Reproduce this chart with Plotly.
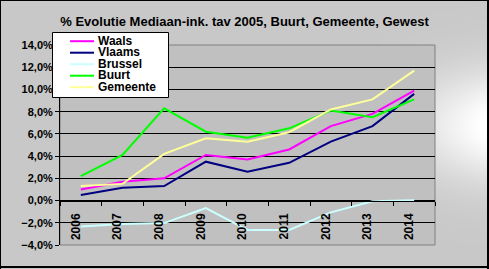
import zlib, struct, base64, math
import plotly.graph_objects as go

years = ["2006", "2007", "2008", "2009", "2010", "2011", "2012", "2013", "2014"]
waals = [1.0, 1.7, 2.0, 4.1, 3.7, 4.6, 6.7, 7.8, 9.9]
vlaams = [0.5, 1.15, 1.3, 3.5, 2.6, 3.4, 5.3, 6.7, 9.6]
brussel = [-2.33, -2.1, -2.03, -0.67, -2.64, -2.64, -1.06, -0.06, 0.03]
buurt = [2.2, 4.1, 8.3, 6.2, 5.65, 6.5, 8.1, 7.5, 9.1]
gemeente = [1.3, 1.5, 4.2, 5.6, 5.3, 6.15, 8.2, 9.1, 11.7]

names = ["Waals", "Vlaams", "Brussel", "Buurt", "Gemeente"]
values = [waals, vlaams, brussel, buurt, gemeente]
colors = ["#FF00FF", "#000080", "#CCFFFF", "#00FF00", "#FFFF99"]

W, H = 489, 269
L, R, T, B = 60, 54, 45, 24
PW, PH = W - L - R, H - T - B


def px(x):
    return (x - L) / PW


def py(y):
    return (H - B - y) / PH


def bg_pixel(x, y):
    if L <= x < W - R and T <= y < H - B:
        return 192
    if x == 0 or y == 0 or x >= W - 2 or y in (H - 3, H - 2):
        return 0
    base = 200
    fx = min(max((x - 370) / 110.0, 0.0), 1.0)
    fy = math.exp(-((y - 125) / 55.0) ** 2)
    return int(round(base + (255 - base) * fx * fy))


def make_png(w, h):
    raw = b"".join(b"\x00" + bytes(bg_pixel(x, y) for x in range(w)) for y in range(h))

    def chunk(tag, data):
        c = struct.pack(">I", len(data)) + tag + data
        return c + struct.pack(">I", zlib.crc32(tag + data) & 0xFFFFFFFF)

    png = b"\x89PNG\r\n\x1a\n"
    png += chunk(b"IHDR", struct.pack(">IIBBBBB", w, h, 8, 0, 0, 0, 0))
    png += chunk(b"IDAT", zlib.compress(raw, 9))
    png += chunk(b"IEND", b"")
    return "data:image/png;base64," + base64.b64encode(png).decode()


FAM = "Liberation Sans, Arial, sans-serif"
font = dict(family=FAM, size=11, color="black", weight="bold")
font12 = dict(family=FAM, size=12, color="black", weight="bold")

fig = go.Figure()
for name, vals, col in zip(names, values, colors):
    fig.add_trace(go.Scatter(x=years, y=vals, name=name, mode="lines",
                             line=dict(color=col, width=2), showlegend=False))

# custom legend (box, line samples, labels)
shapes = [dict(type="rect", xref="paper", yref="paper", x0=0, x1=1, y0=0, y1=1,
               line=dict(color="#808080", width=1), layer="below"),
          dict(type="rect", xref="paper", yref="paper", x0=px(52.5), x1=px(168.5),
               y0=py(97.5), y1=py(32.5), fillcolor="white",
               line=dict(color="black", width=1), layer="above")]
annotations = []
leg_y0, leg_dy = 41.2, 11.5
for i, (name, col) in enumerate(zip(names, colors)):
    yc = leg_y0 + i * leg_dy
    shapes.append(dict(type="line", xref="paper", yref="paper", x0=px(70), x1=px(94),
                       y0=py(yc), y1=py(yc), line=dict(color=col, width=2), layer="above"))
    annotations.append(dict(text=name, xref="paper", yref="paper", x=px(95.5), y=py(yc - 0.5),
                            xanchor="left", yanchor="middle", showarrow=False,
                            font=font12))

ymin, ymax = -4, 14
fig.update_layout(
    width=W, height=H,
    margin=dict(l=L, r=R, t=T, b=B, pad=0),
    paper_bgcolor="#C8C8C8",
    plot_bgcolor="#C0C0C0",
    separators=", ",
    font=font,
    title=dict(text="% Evolutie Mediaan-ink. tav 2005, Buurt, Gemeente, Gewest",
               x=0.5, xref="container", xanchor="center",
               y=1 - 21.5 / H, yref="container", yanchor="middle",
               font=dict(family=FAM, size=13, color="black", weight="bold")),
    showlegend=False,
    xaxis=dict(
        type="category", anchor="free", position=(0 - ymin) / (ymax - ymin),
        showgrid=False, showline=True, linecolor="black", linewidth=1,
        ticks="outside", ticklen=4, tickcolor="black", tickson="boundaries",
        tickangle=-90, tickfont=font12, range=[-0.5, 8.5], zeroline=False,
        ticklabelstandoff=7, ticklabelshift=-5,
    ),
    yaxis=dict(
        range=[ymin, ymax], dtick=2, tick0=0, tickformat=".1f", ticksuffix="%",
        showgrid=True, gridcolor="black", gridwidth=1,
        showline=True, linecolor="black", linewidth=1,
        ticks="outside", ticklen=4, tickcolor="black", tickfont=font,
        zeroline=False,
    ),
    images=[dict(source=make_png(W, H), xref="paper", yref="paper",
                 x=-L / PW, y=(PH + T) / PH, sizex=W / PW, sizey=H / PH,
                 xanchor="left", yanchor="top", sizing="stretch", layer="below")],
    shapes=shapes,
    annotations=annotations,
)

fig.write_html("out.html")
